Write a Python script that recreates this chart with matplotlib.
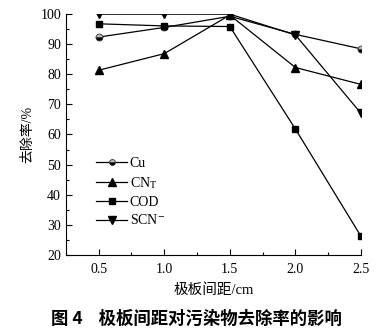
import matplotlib
matplotlib.use("Agg")
import matplotlib.pyplot as plt
from matplotlib.ticker import MultipleLocator

plt.rcParams['font.family'] = ['Liberation Serif', 'Noto Sans CJK SC']
plt.rcParams['mathtext.fontset'] = 'stix'

# electrode spacing (cm)
spacing = [0.5, 1.0, 1.5, 2.0, 2.5]

# removal rates (%)
cu = [92.3, 95.5, 99.2, 93.2, 88.4]
cn_t = [81.3, 86.8, 99.6, 82.2, 76.6]
cod = [96.7, 96.0, 95.8, 61.8, 26.2]
scn = [99.9, 99.9, 99.9, 93.0, 67.0]

fig = plt.figure(figsize=(3.92, 3.30), dpi=100)
ax = fig.add_axes([0.168, 0.227, 0.753, 0.731])

ms = 5
ax.plot(spacing, cu, color='black', lw=0.9, marker='o', ms=ms,
        fillstyle='bottom', markerfacecolor='black', markerfacecoloralt='#bbbbbb',
        markeredgecolor='#333333', markeredgewidth=0.6, label='Cu')
ax.plot(spacing, cn_t, color='black', lw=0.9, marker='^', ms=ms + 1,
        label=r'CN$_{\mathrm{T}}$')
ax.plot(spacing, cod, color='black', lw=0.9, marker='s', ms=ms,
        label='COD')
ax.plot(spacing, scn, color='black', lw=0.9, marker='v', ms=ms + 1,
        label=r'SCN$^{-}$')

ax.set_xlim(0.25, 2.5)
ax.set_ylim(20, 100)
ax.xaxis.set_major_locator(MultipleLocator(0.5))
ax.xaxis.set_minor_locator(MultipleLocator(0.25))
ax.yaxis.set_major_locator(MultipleLocator(10))
ax.yaxis.set_minor_locator(MultipleLocator(5))
ax.set_xticks(spacing)
ax.set_xticklabels(['0.5', '1.0', '1.5', '2.0', '2.5'])

ax.spines['top'].set_visible(False)
ax.spines['right'].set_visible(False)
ax.tick_params(which='both', direction='in', labelsize=10, width=0.8)
ax.tick_params(which='major', length=4)
ax.tick_params(which='minor', length=2.5)
ax.tick_params(axis='x', pad=6)

ax.set_xlabel('极板间距/cm', fontsize=10.5, labelpad=5)
ax.set_ylabel('去除率/%', fontsize=10, labelpad=4)

ax.legend(loc='upper left', bbox_to_anchor=(0.08, 0.435), frameon=False,
          fontsize=10, handlelength=2.2, handletextpad=0.2,
          labelspacing=0.35, borderpad=0, markerscale=0.85)

fig.text(0.5, 0.035, '图 4    极板间距对污染物去除率的影响', ha='center',
         va='center', fontsize=12.5, fontweight='bold',
         family=['Noto Sans CJK SC', 'DejaVu Sans'])

fig.savefig('out.png', dpi=100)
